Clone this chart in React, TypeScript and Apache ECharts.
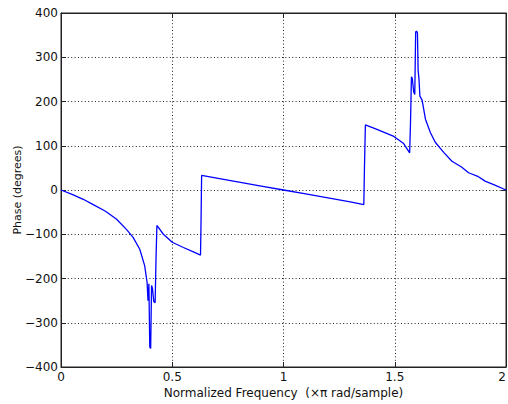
import React, { useEffect, useRef } from "react";
import * as echarts from "echarts";

const freq = [
  0, 0.05, 0.1, 0.145, 0.2, 0.25, 0.294, 0.324, 0.354, 0.376, 0.387, 0.391,
  0.395, 0.399, 0.403, 0.407, 0.411, 0.417, 0.423, 0.427, 0.431, 0.46, 0.5,
  0.55, 0.6, 0.627, 0.629, 0.632, 0.7, 0.8, 0.9, 1.0, 1.1, 1.2, 1.3, 1.361,
  1.364, 1.368, 1.42, 1.496, 1.54, 1.567, 1.571, 1.575, 1.579, 1.585, 1.59,
  1.594, 1.598, 1.602, 1.605, 1.609, 1.613, 1.623, 1.638, 1.66, 1.682, 1.72,
  1.757, 1.8, 1.832, 1.876, 1.906, 1.95, 2.0,
];
const phase = [
  0, -10, -21, -33, -48, -66, -89, -107, -134, -171, -209, -250,
  -212, -355, -358, -216, -222, -252, -255, -156, -80, -100, -118,
  -130, -141, -147, -85, 33, 27, 18, 9, 0, -9, -18, -27, -33,
  55, 147, 137, 121, 105, 84, 156, 256, 252, 222, 216,
  357, 359, 355, 271, 250, 212, 203, 160, 130, 108, 85,
  65, 52, 39, 30, 20, 11, 0,
];
const xTicks = { min: 0, max: 2, interval: 0.5 };
const yTicks = { min: -400, max: 400, interval: 100 };
const xTitle = "Normalized Frequency  (\u00d7\u03c0 rad/sample)";
const yTitle = "Phase (degrees)";

const FONT = "'DejaVu Sans', sans-serif";

export default function App() {
  const ref = useRef<HTMLDivElement>(null);
  useEffect(() => {
    if (!ref.current) return;
    document.body.style.overflow = "hidden";
    const chart = echarts.init(ref.current, undefined, { renderer: "svg" });
    const data = freq.map((f, i) => [f, phase[i]]);
    const gridLine = {
      show: true,
      lineStyle: { color: "#222", width: 1, type: [1, 2.4] as any },
    };
    const tick = { show: true, inside: true, length: 5, lineStyle: { color: "#222" } };
    const axisLine = { show: true, onZero: false, lineStyle: { color: "#222" } };
    chart.setOption({
      animation: false,
      backgroundColor: "#fff",
      grid: {
        left: 61,
        width: 445,
        top: 13,
        bottom: 37,
        containLabel: false,
        outerBoundsMode: "none",
        show: true,
        borderColor: "#222",
        borderWidth: 1,
        backgroundColor: "transparent",
      },
      xAxis: [
        {
          type: "value",
          min: xTicks.min,
          max: xTicks.max,
          interval: xTicks.interval,
          name: xTitle,
          nameLocation: "middle",
          nameGap: 20,
          nameMoveOverlap: false,
          nameTextStyle: { fontFamily: FONT, fontSize: 12, color: "#111" },
          axisLine,
          axisTick: tick,
          splitLine: gridLine,
          axisLabel: {
            fontFamily: FONT,
            fontSize: 12,
            color: "#111",
            margin: 4,
            showMaxLabel: true,
            alignMaxLabel: "right",
            formatter: (v: number) => String(v),
          },
        },
        {
          type: "value",
          position: "top",
          min: xTicks.min,
          max: xTicks.max,
          interval: xTicks.interval,
          axisLine,
          axisTick: tick,
          splitLine: { show: false },
          axisLabel: { show: false },
        },
      ],
      yAxis: [
        {
          type: "value",
          min: yTicks.min,
          max: yTicks.max,
          interval: yTicks.interval,
          name: yTitle,
          nameLocation: "middle",
          nameGap: 38,
          nameMoveOverlap: false,
          nameRotate: 90,
          nameTextStyle: { fontFamily: FONT, fontSize: 11, color: "#111" },
          axisLine,
          axisTick: tick,
          splitLine: gridLine,
          axisLabel: {
            fontFamily: FONT,
            fontSize: 12,
            color: "#111",
            margin: 3,
            formatter: (v: number) => String(v).replace("-", "\u2212"),
          },
        },
        {
          type: "value",
          position: "right",
          min: yTicks.min,
          max: yTicks.max,
          interval: yTicks.interval,
          axisLine,
          axisTick: tick,
          splitLine: { show: false },
          axisLabel: { show: false },
        },
      ],
      series: [
        {
          type: "line",
          data,
          xAxisIndex: 0,
          yAxisIndex: 0,
          showSymbol: false,
          symbol: "none",
          lineStyle: { color: "#0000ff", width: 1.3 },
        },
      ],
    });
    return () => chart.dispose();
  }, []);
  return (
    <div
      ref={ref}
      style={{ position: "absolute", left: 0, top: 0, width: 508, height: 404 }}
    />
  );
}
